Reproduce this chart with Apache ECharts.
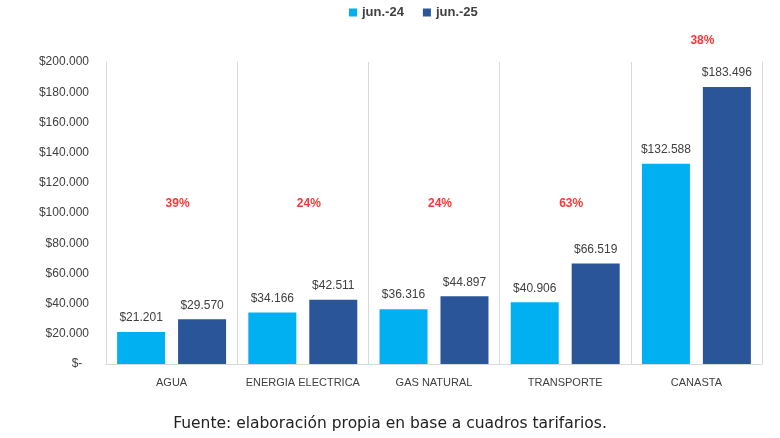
<!DOCTYPE html>
<html>
<head>
<meta charset="utf-8">
<script src="https://cdn.jsdelivr.net/npm/echarts@6/dist/echarts.min.js"></script>
<style>
  html, body { margin: 0; padding: 0; background: #fff; }
  #chart { width: 780px; height: 438px; }
</style>
</head>
<body>
<div id="chart"></div>
<script>
const categories = ['AGUA', 'ENERGIA ELECTRICA', 'GAS NATURAL', 'TRANSPORTE', 'CANASTA'];
const jun24 = [21201, 34166, 36316, 40906, 132588];
const jun25 = [29570, 42511, 44897, 66519, 183496];
const pctLabels = ['39%', '24%', '24%', '63%', '38%'];
const pctY = [106000, 106000, 106000, 106000, 214000];
const yTicks = [0, 20000, 40000, 60000, 80000, 100000, 120000, 140000, 160000, 180000, 200000];

function money(v) {
    if (v === 0) return '$-  ';
    return '$' + String(v).replace(/\B(?=(\d{3})+(?!\d))/g, '.');
}

var myChart = echarts.init(document.getElementById('chart'));
var font = '"Liberation Sans", Arial, sans-serif';
var option = {
    animation: false,
    textStyle: { fontFamily: font },
    legend: {
        data: ['jun.-24', 'jun.-25'],
        icon: 'rect',
        top: 1,
        left: 344,
        itemWidth: 8,
        itemHeight: 8,
        itemGap: 19,
        textStyle: { fontSize: 13, fontWeight: 'bold', color: '#404040', fontFamily: font }
    },
    grid: { left: 106, right: 18, top: 62, bottom: 74 },
    xAxis: {
        type: 'category',
        data: categories,
        axisLine: { lineStyle: { color: '#d9d9d9' } },
        axisTick: { show: false },
        splitLine: { show: true, lineStyle: { color: '#d9d9d9' } },
        axisLabel: { fontSize: 11, color: '#404040', margin: 13, interval: 0 }
    },
    yAxis: {
        type: 'value',
        min: yTicks[0],
        max: yTicks[yTicks.length - 1],
        interval: 20000,
        axisLine: { show: true, lineStyle: { color: '#d9d9d9' } },
        axisTick: { show: false },
        splitLine: { show: false },
        axisLabel: { fontSize: 12, color: '#404040', margin: 17, formatter: money }
    },
    series: [
        {
            name: 'jun.-24',
            type: 'bar',
            data: jun24,
            barWidth: 48,
            barGap: '27%',
            itemStyle: { color: '#00B0F0' },
            label: { show: true, position: 'top', distance: 8, fontSize: 12, color: '#404040', formatter: p => money(p.value) }
        },
        {
            name: 'jun.-25',
            type: 'bar',
            data: jun25,
            barWidth: 48,
            itemStyle: { color: '#2A5699' },
            label: { show: true, position: 'top', distance: 8, fontSize: 12, color: '#404040', formatter: p => money(p.value) }
        },
        {
            name: 'pct',
            type: 'scatter',
            data: pctY,
            symbolSize: 0,
            clip: false,
            silent: true,
            label: {
                show: true,
                position: 'inside',
                offset: [6, 0],
                fontSize: 12,
                fontWeight: 'bold',
                color: '#FF0000',
                formatter: p => pctLabels[p.dataIndex]
            }
        }
    ],
    graphic: [{
        type: 'text',
        left: 'center',
        top: 416,
        style: {
            text: 'Fuente: elaboración propia en base a cuadros tarifarios.',
            fontSize: 15.5,
            fontFamily: '"DejaVu Sans", sans-serif',
            fill: '#222'
        }
    }]
};
myChart.setOption(option);
window.addEventListener('resize', () => {
    myChart.resize()
})
</script>
</body>
</html>
